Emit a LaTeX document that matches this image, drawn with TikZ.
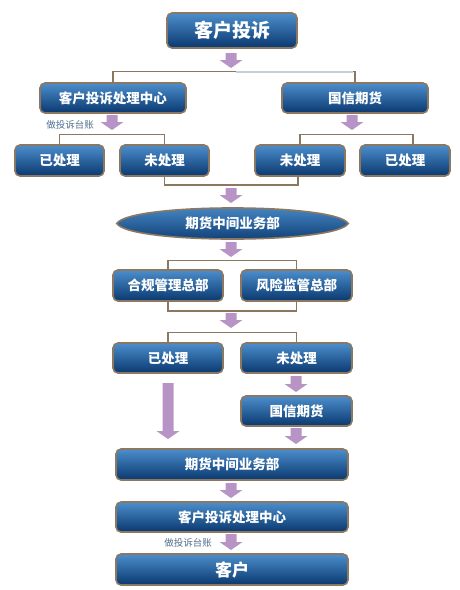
\documentclass[tikz,border=0pt]{standalone}
\usepackage{fontspec}
\newfontfamily\cjk{Noto Sans CJK SC}
\usetikzlibrary{backgrounds}
\definecolor{boxtop}{HTML}{4C8ECC}
\definecolor{boxmid}{HTML}{16599B}
\definecolor{boxbot}{HTML}{0A386F}
\definecolor{rim}{HTML}{8C7860}
\definecolor{arrowc}{HTML}{B893C6}
\definecolor{paleline}{HTML}{C4CFD8}
\definecolor{notec}{HTML}{4F6E8E}
\tikzset{
	boxtext/.style={inner sep=0pt, text=white,
		font=\cjk\bfseries\fontsize{13.5}{14}\selectfont, minimum height=30pt},
	box/.style={boxtext, draw=rim, line width=1.6pt, rounded corners=5pt,
		top color=boxtop, middle color=boxmid, bottom color=boxbot},
	lens/.style={draw=rim, line width=1.6pt,
		top color=boxtop, middle color=boxmid, bottom color=boxbot},
	link/.style={draw=rim, line width=1.4pt},
	note/.style={text=notec, font=\cjk\fontsize{9.5}{10}\selectfont, inner sep=0pt}
}
\begin{document}
\begin{tikzpicture}[x=1pt,y=-1pt]
	\useasboundingbox (0,0) rectangle (460,590);
	
	% top level
	\node[box, minimum width=130pt, minimum height=35pt, font=\cjk\bfseries\fontsize{19}{20}\selectfont] (ts) at (232,30.5) {客户投诉};
	\node[box, minimum width=146pt] (cc) at (113,98) {客户投诉处理中心};
	\node[box, minimum width=146pt] (gx) at (355,98) {国信期货};
	\node[box, minimum width=89pt, minimum height=31pt] (yL) at (59.5,160.5) {已处理};
	\node[box, minimum width=89pt, minimum height=31pt] (wL) at (164.5,160.5) {未处理};
	\node[box, minimum width=90pt, minimum height=31pt] (wR) at (300,160.5) {未处理};
	\node[box, minimum width=90pt, minimum height=31pt] (yR) at (405,160.5) {已处理};
	
	% middle office
	\node[boxtext, minimum width=231pt, minimum height=31pt] (zj) at (232.5,223.5) {期货中间业务部};
	\node[box, minimum width=110pt, minimum height=31pt] (hg) at (168,285.5) {合规管理总部};
	\node[box, minimum width=111pt, minimum height=31pt] (fx) at (296.5,285.5) {风险监管总部};
	\node[box, minimum width=110pt] (y2) at (168,358) {已处理};
	\node[box, minimum width=111pt] (w2) at (296.5,358) {未处理};
	\node[box, minimum width=111pt] (gx2) at (296.5,411) {国信期货};
	
	% back to the client
	\node[box, minimum width=232pt, minimum height=31pt] (zj2) at (232,464.5) {期货中间业务部};
	\node[box, minimum width=232pt] (cc2) at (232,517) {客户投诉处理中心};
	\node[box, minimum width=232pt, minimum height=31pt, font=\cjk\bfseries\fontsize{17}{18}\selectfont] (kh) at (232,569.5) {客户};
	
	\node[note] (n1) at (70,125) {做投诉台账};
	\node[note] (n2) at (188,543) {做投诉台账};
	
	\begin{pgfonlayer}{background}
		\path[lens] (zj.west) .. controls +(13,-20.7) and +(-13,-20.7) .. (zj.east)
			.. controls +(-13,20.7) and +(13,20.7) .. (zj.west) -- cycle;
	\end{pgfonlayer}
	
	% brackets
	\draw[link] (cc.north) -- ++(0,-11) -| (gx.north);
	\draw[paleline, line width=1.4pt] (236,72) -- (353,72);
	\draw[link] (yL.north) -- ++(0,-10) -| (wL.north);
	\draw[link] (wR.north) -- ++(0,-10) -| ([xshift=8pt]yR.north);
	\draw[link] (wL.south) -- ++(0,8) -| ([xshift=-2pt]wR.south);
	\draw[link] (hg.north) -- ++(0,-9) -| (fx.north);
	\draw[link] (hg.south) -- ++(0,9) -| (fx.south);
	\draw[link] (y2.north) -- ++(0,-10) -| (w2.north);
	
	% purple arrows: x / top / tip
	\foreach \x/\ya/\yb in {231/53/68, 112/115/130, 352/115/130, 231/188/203, 231/242/257,
		231/313/328, 296/376/392, 168/383/439, 296/428/444, 231/483/498, 231/534/550} {
		\fill[arrowc] (\x-5.5,\ya) -- (\x+5.5,\ya) -- (\x+5.5,\yb-8) -- (\x+11.5,\yb-8)
			-- (\x,\yb) -- (\x-11.5,\yb-8) -- (\x-5.5,\yb-8) -- cycle;}
\end{tikzpicture}
\end{document}
